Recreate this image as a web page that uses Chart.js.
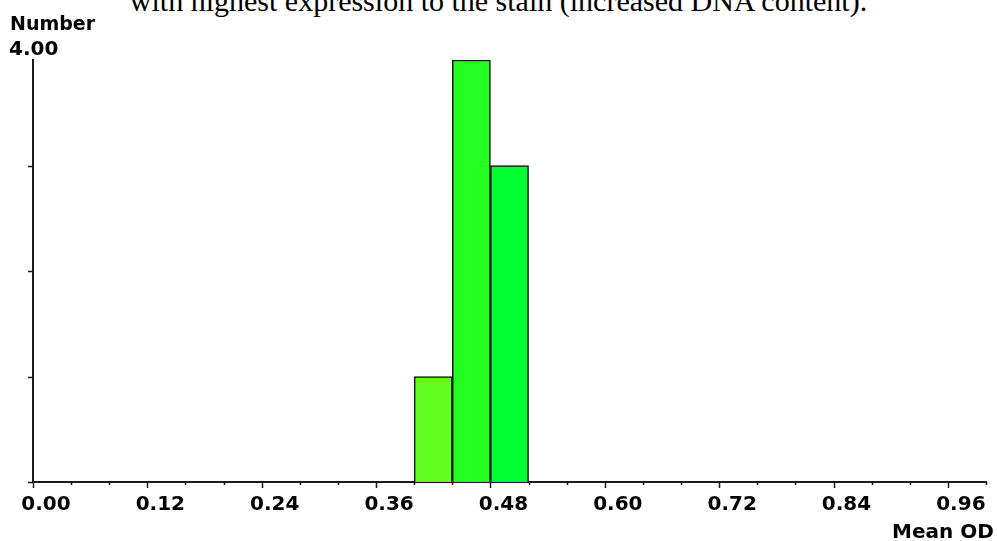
<!DOCTYPE html>
<html>
<head>
<meta charset="utf-8">
<script src="https://cdn.jsdelivr.net/npm/chart.js@4.4.1/dist/chart.umd.min.js"></script>
<style>
  html, body { margin: 0; padding: 0; background: #fff; }
  .wrap { position: relative; width: 997px; height: 541px; overflow: hidden; }
  .caption {
    position: absolute; left: 0; top: -14px; width: 997px;
    text-align: center; font: 30px/30px "Liberation Serif", "Times New Roman", serif;
    color: #000; white-space: nowrap;
  }
  canvas { position: absolute; left: 0; top: 0; }
</style>
</head>
<body>
<div class="wrap">
  <div class="caption">with highest expression to the stain (increased DNA content).</div>
  <canvas id="histChart" width="997" height="541"></canvas>
</div>
<script>
// histogram bins (centre of each 0.04 wide bin) and counts
const binCenters = [0.42, 0.46, 0.50];
const counts = [1, 4, 3];
const barColors = ['#62ff1e', '#22ff20', '#00ff30'];

// axes
const xTicks = [0.00, 0.12, 0.24, 0.36, 0.48, 0.60, 0.72, 0.84, 0.96];
const xMinorStep = 0.04;
const xMax = 1.0;
const yTicks = [0, 1, 2, 3];
const yMax = 4;
const yTopLabel = '4.00';
const yTitle = 'Number';
const xTitle = 'Mean OD';

const axisColor = '#1a1a1a';
const labelFont = 'bold 20px "DejaVu Sans", sans-serif';

const axisDecor = {
    id: 'axisDecor',
    afterDraw(chart) {
        const { ctx, scales: { x, y } } = chart;
        const y0 = y.getPixelForValue(0);
        const x0 = x.getPixelForValue(0);
        ctx.save();
        ctx.strokeStyle = axisColor;
        ctx.lineWidth = 1.5;
        ctx.beginPath();
        // minor ticks along x
        for (let v = 0; v <= xMax + 1e-9; v += xMinorStep) {
            const px = Math.round(x.getPixelForValue(v)) + 0.5;
            ctx.moveTo(px, y0);
            ctx.lineTo(px, y0 + 3);
        }
        // major ticks along x
        xTicks.forEach(v => {
            const px = Math.round(x.getPixelForValue(v)) + 0.5;
            ctx.moveTo(px, y0);
            ctx.lineTo(px, y0 + 6);
        });
        // ticks on y
        yTicks.forEach(v => {
            const py = Math.round(y.getPixelForValue(v)) + 0.5;
            ctx.moveTo(x0, py);
            ctx.lineTo(x0 - 5, py);
        });
        ctx.stroke();

        ctx.fillStyle = '#000';
        ctx.textBaseline = 'alphabetic';
        ctx.textAlign = 'left';
        ctx.font = 'bold 19px "DejaVu Sans", sans-serif';
        ctx.fillText(yTitle, 10, 30);
        ctx.font = labelFont;
        ctx.fillText(yTopLabel, 9, 55);
        ctx.fillText(xTitle, 892, 538);
        ctx.restore();
    }
};

new Chart(document.getElementById('histChart'), {
    type: 'bar',
    data: {
        datasets: [{
            data: binCenters.map((c, i) => ({ x: c, y: counts[i] })),
            backgroundColor: barColors,
            borderColor: '#111',
            borderWidth: 1.5,
            barPercentage: 1.0,
            categoryPercentage: 1.0
        }]
    },
    options: {
        responsive: false,
        animation: false,
        events: [],
        layout: { padding: { top: 60, right: 11, bottom: 0, left: 0 } },
        plugins: {
            legend: { display: false },
            tooltip: { enabled: false }
        },
        scales: {
            x: {
                type: 'linear',
                offset: false,
                min: 0,
                max: xMax,
                afterBuildTicks: scale => { scale.ticks = xTicks.map(v => ({ value: v })); },
                afterFit: scale => {
                    scale.height = 59;
                    scale.paddingLeft = 0;
                    scale.paddingRight = 0;
                },
                grid: { display: false, drawTicks: false, offset: false },
                border: { display: true, color: axisColor, width: 2 },
                ticks: {
                    autoSkip: false,
                    maxRotation: 0,
                    padding: 11,
                    labelOffset: 13,
                    color: '#000',
                    font: { family: '"DejaVu Sans", sans-serif', size: 20, weight: 'bold' },
                    callback: v => v.toFixed(2)
                }
            },
            y: {
                min: 0,
                max: yMax,
                afterFit: scale => { scale.width = 33; },
                grid: { display: false, drawTicks: false },
                border: { display: true, color: axisColor, width: 2 },
                ticks: { display: false }
            }
        }
    },
    plugins: [axisDecor]
});
</script>
</body>
</html>
